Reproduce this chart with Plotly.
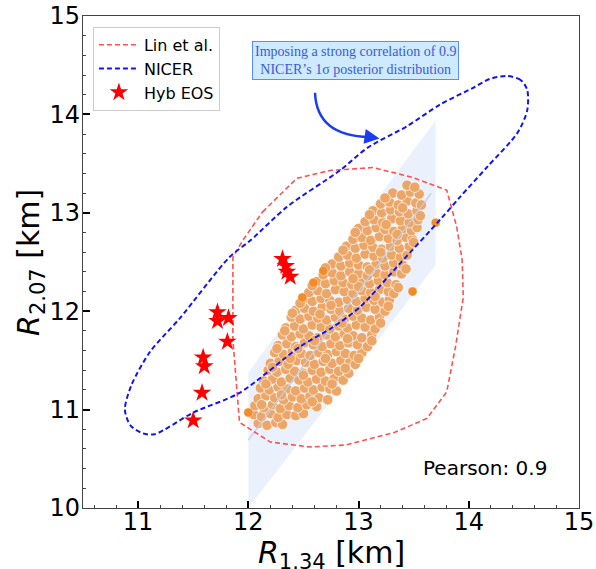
import plotly.graph_objects as go

# ---------------- data ----------------
# Lin et al. contour (R1.34, R2.07)
lin_x = [12.13, 12.44, 12.74, 13.13, 13.49, 13.80, 13.89, 13.94, 13.95, 13.88, 13.80, 13.62,
         13.33, 12.88, 12.56, 12.20, 11.92, 11.89, 11.86, 11.86, 11.95, 12.13]
lin_y = [13.01, 13.35, 13.43, 13.46, 13.36, 13.23, 12.86, 12.52, 12.14, 11.64, 11.18, 10.91,
         10.77, 10.64, 10.62, 10.67, 10.87, 11.30, 11.71, 12.55, 12.72, 13.01]

# NICER 1-sigma contour
nicer_x = [14.53, 14.47, 14.35, 14.19, 14.04, 13.74, 13.44, 13.08, 12.83, 12.35, 12.02, 11.83,
           11.38, 11.11, 10.94, 10.88, 10.93, 11.04, 11.15, 11.50, 11.92, 12.47, 12.77, 13.01,
           13.38, 13.74, 13.92, 14.17, 14.44, 14.53, 14.53]
nicer_y = [14.25, 14.35, 14.39, 14.36, 14.27, 14.10, 13.88, 13.66, 13.43, 13.06, 12.72, 12.55,
           11.93, 11.59, 11.25, 11.00, 10.84, 10.76, 10.75, 10.97, 11.17, 11.64, 11.84, 12.04,
           12.49, 12.93, 13.16, 13.47, 13.81, 14.04, 14.25]

# Hybrid EOS stars
hyb_x = [12.31, 12.34, 12.35, 12.38, 11.72, 11.72, 11.82, 11.81, 11.59, 11.60, 11.58, 11.50]
hyb_y = [12.53, 12.46, 12.40, 12.35, 11.99, 11.90, 11.93, 11.69, 11.53, 11.44, 11.17, 10.89]

# confidence band and fitted line
band_x = [12.0, 13.7, 13.7, 12.0, 12.0]
band_y = [10.0, 12.47, 13.94, 11.38, 10.0]
fit_x = [12.0, 13.66]
fit_y = [10.69, 13.20]

# sampled correlated points (R1.34, R2.07)
cloud_points = [
    (12.09, 10.86), (12.17, 10.84), (12.25, 10.87), (12.31, 10.85),
    (12.05, 10.95), (12.12, 10.93), (12.20, 10.96), (12.27, 10.92), (12.35, 10.95), (12.43, 10.94), (12.50, 10.96),
    (12.06, 11.04), (12.14, 11.02), (12.22, 11.05), (12.29, 11.01), (12.37, 11.04), (12.45, 11.02), (12.53, 11.05), (12.62, 11.03),
    (12.09, 11.11), (12.16, 11.14), (12.24, 11.12), (12.32, 11.10), (12.40, 11.13), (12.48, 11.11), (12.56, 11.14), (12.64, 11.12), (12.72, 11.10),
    (12.11, 11.22), (12.19, 11.20), (12.27, 11.23), (12.35, 11.21), (12.43, 11.19), (12.51, 11.22), (12.59, 11.20), (12.67, 11.23), (12.74, 11.21), (12.80, 11.19),
    (12.14, 11.29), (12.22, 11.31), (12.30, 11.28), (12.38, 11.32), (12.46, 11.30), (12.54, 11.28), (12.62, 11.31), (12.70, 11.29), (12.78, 11.32), (12.86, 11.30),
    (12.18, 11.40), (12.26, 11.38), (12.34, 11.41), (12.42, 11.39), (12.50, 11.37), (12.58, 11.40), (12.66, 11.38), (12.74, 11.41), (12.82, 11.39), (12.91, 11.37),
    (12.20, 11.47), (12.28, 11.49), (12.36, 11.46), (12.44, 11.50), (12.52, 11.48), (12.60, 11.46), (12.68, 11.49), (12.76, 11.47), (12.84, 11.50), (12.92, 11.48), (12.97, 11.46),
    (12.24, 11.58), (12.32, 11.56), (12.40, 11.59), (12.48, 11.57), (12.56, 11.55), (12.64, 11.58), (12.72, 11.56), (12.80, 11.59), (12.88, 11.57), (12.96, 11.55), (13.03, 11.58),
    (12.27, 11.65), (12.35, 11.67), (12.43, 11.64), (12.51, 11.68), (12.59, 11.66), (12.67, 11.64), (12.75, 11.67), (12.83, 11.65), (12.91, 11.68), (12.99, 11.66), (13.08, 11.64),
    (12.31, 11.76), (12.39, 11.74), (12.47, 11.77), (12.55, 11.75), (12.63, 11.73), (12.71, 11.76), (12.79, 11.74), (12.87, 11.77), (12.95, 11.75), (13.03, 11.73), (13.12, 11.76),
    (12.34, 11.83), (12.42, 11.85), (12.50, 11.82), (12.58, 11.86), (12.66, 11.84), (12.74, 11.82), (12.82, 11.85), (12.90, 11.83), (12.98, 11.86), (13.06, 11.84), (13.15, 11.82),
    (12.39, 11.94), (12.47, 11.92), (12.55, 11.95), (12.63, 11.93), (12.71, 11.91), (12.79, 11.94), (12.87, 11.92), (12.95, 11.95), (13.03, 11.93), (13.11, 11.91), (13.19, 11.94),
    (12.43, 12.01), (12.51, 12.03), (12.59, 12.00), (12.67, 12.04), (12.75, 12.02), (12.83, 12.00), (12.91, 12.03), (12.99, 12.01), (13.07, 12.04), (13.15, 12.02), (13.24, 12.00),
    (12.50, 12.12), (12.58, 12.10), (12.66, 12.13), (12.74, 12.11), (12.82, 12.09), (12.90, 12.12), (12.98, 12.10), (13.06, 12.13), (13.14, 12.11), (13.22, 12.09), (13.28, 12.12),
    (12.55, 12.19), (12.63, 12.21), (12.71, 12.18), (12.79, 12.22), (12.87, 12.20), (12.95, 12.18), (13.03, 12.21), (13.11, 12.19), (13.19, 12.22), (13.27, 12.20), (13.32, 12.18),
    (12.62, 12.30), (12.70, 12.28), (12.78, 12.31), (12.86, 12.29), (12.94, 12.27), (13.02, 12.30), (13.10, 12.28), (13.18, 12.31), (13.26, 12.29), (13.34, 12.27),
    (12.68, 12.37), (12.76, 12.39), (12.84, 12.36), (12.92, 12.40), (13.00, 12.38), (13.08, 12.36), (13.16, 12.39), (13.24, 12.37), (13.32, 12.40), (13.39, 12.38),
    (12.76, 12.48), (12.84, 12.46), (12.92, 12.49), (13.00, 12.47), (13.08, 12.45), (13.16, 12.48), (13.24, 12.46), (13.32, 12.49), (13.40, 12.47),
    (12.82, 12.55), (12.90, 12.57), (12.98, 12.54), (13.06, 12.58), (13.14, 12.56), (13.22, 12.54), (13.30, 12.57), (13.38, 12.55), (13.44, 12.57),
    (12.89, 12.66), (12.97, 12.64), (13.05, 12.67), (13.13, 12.65), (13.21, 12.63), (13.29, 12.66), (13.37, 12.64), (13.46, 12.66),
    (12.95, 12.73), (13.03, 12.75), (13.11, 12.72), (13.19, 12.76), (13.27, 12.74), (13.35, 12.72), (13.43, 12.75), (13.49, 12.73),
    (13.00, 12.84), (13.08, 12.82), (13.16, 12.85), (13.24, 12.83), (13.32, 12.81), (13.40, 12.84), (13.48, 12.82), (13.53, 12.85),
    (13.06, 12.91), (13.14, 12.93), (13.22, 12.90), (13.30, 12.94), (13.38, 12.92), (13.46, 12.90), (13.54, 12.93),
    (13.13, 13.02), (13.21, 13.00), (13.29, 13.03), (13.37, 13.01), (13.45, 12.99), (13.53, 13.02),
    (13.20, 13.09), (13.28, 13.11), (13.36, 13.08), (13.44, 13.12), (13.52, 13.10), (13.57, 13.08),
    (13.31, 13.20), (13.39, 13.18), (13.47, 13.21), (13.55, 13.19),
    (13.44, 13.28), (13.51, 13.26),
    # irregular extra samples
    (12.12, 11.05), (12.16, 11.26), (12.22, 11.43), (12.26, 11.62), (12.33, 11.80), (12.40, 11.98),
    (12.47, 12.08), (12.58, 12.26), (12.70, 12.44), (12.86, 12.62), (12.97, 12.80), (13.10, 12.98),
    (13.24, 13.15), (12.58, 11.08), (12.76, 11.26), (12.88, 11.42), (13.00, 11.52), (13.12, 11.70),
    (13.20, 11.88), (13.27, 12.05), (13.36, 12.24), (13.43, 12.43), (13.50, 12.70), (13.56, 12.97),
    (12.30, 11.15), (12.50, 11.35), (12.70, 11.52), (12.60, 11.70), (12.85, 11.88), (12.75, 12.06),
    (13.00, 12.25), (13.10, 12.42), (13.20, 12.60), (13.35, 12.78), (13.40, 13.05), (12.45, 11.62),
    (12.65, 11.97), (12.95, 12.33), (13.25, 12.88), (13.15, 12.15), (12.38, 11.52), (12.90, 11.72),
]
cloud_x = [p[0] for p in cloud_points]
cloud_y = [p[1] for p in cloud_points]

# isolated samples
edge_x = [12.00, 12.49, 12.59, 12.68, 13.70, 13.49]
edge_y = [10.97, 12.14, 12.29, 12.41, 12.90, 12.20]

x_ticks = [11, 12, 13, 14, 15]
y_ticks = [10, 11, 12, 13, 14, 15]

# ---------------- figure ----------------
fig = go.Figure()

fig.add_trace(go.Scatter(x=band_x, y=band_y, mode="lines", fill="toself",
                         fillcolor="rgba(120,160,235,0.15)", line=dict(width=0),
                         showlegend=False, hoverinfo="skip"))

fig.add_trace(go.Scatter(x=cloud_x, y=cloud_y, mode="markers", showlegend=False,
                         marker=dict(size=10.5, color="rgb(235,166,104)",
                                     line=dict(color="rgba(255,255,255,0.85)", width=0.8))))

fig.add_trace(go.Scatter(x=edge_x, y=edge_y, mode="markers", showlegend=False,
                         marker=dict(size=9, color="rgb(242,140,40)",
                                     line=dict(color="rgba(255,255,255,0.6)", width=0.5))))

fig.add_trace(go.Scatter(x=fit_x, y=fit_y, mode="lines", showlegend=False,
                         line=dict(color="rgba(190,205,235,0.9)", width=1.5)))

fig.add_trace(go.Scatter(x=lin_x, y=lin_y, mode="lines", name="Lin et al.",
                         line=dict(color="rgba(255,50,50,0.85)", width=1.6, dash="5px,3px")))

fig.add_trace(go.Scatter(x=nicer_x, y=nicer_y, mode="lines", name="NICER",
                         line=dict(color="rgb(20,20,240)", width=2, dash="5px,3px", shape="spline",
                                   smoothing=0.8)))

fig.add_trace(go.Scatter(x=hyb_x, y=hyb_y, mode="markers", name="Hyb EOS",
                         marker=dict(symbol="star", size=14, color="red",
                                     line=dict(width=0))))

axis_common = dict(
    showline=True, linecolor="#444", linewidth=1.3, mirror=True,
    ticks="inside", ticklen=7, tickwidth=2, tickcolor="black",
    showgrid=False, zeroline=False, automargin=False,
    tickfont=dict(family="DejaVu Sans", size=24, color="black"),
    minor=dict(ticks="inside", ticklen=3, tickwidth=1, tickcolor="#444", dtick=0.2,
               showgrid=False),
)

fig.update_xaxes(range=[10.5, 15], tickvals=x_ticks, ticklabelstandoff=-8, **axis_common)
fig.update_yaxes(range=[10, 15], tickvals=y_ticks, ticklabelstandoff=-3, **axis_common)

# axis titles
fig.add_annotation(xref="paper", yref="paper", x=0.5, y=-0.05, xanchor="center",
                   yanchor="top", showarrow=False,
                   text="<i>R</i><sub>1.34</sub> [km]",
                   font=dict(family="DejaVu Sans", size=30, color="black"))
fig.add_annotation(xref="paper", yref="paper", x=-0.107, y=0.5, xanchor="center",
                   yanchor="middle", showarrow=False, textangle=-90,
                   text="<i>R</i><sub>2.07</sub> [km]",
                   font=dict(family="DejaVu Sans", size=30, color="black"))

fig.add_annotation(xref="paper", yref="paper", x=0.94, y=0.081, xanchor="right",
                   yanchor="middle", showarrow=False, text="Pearson: 0.9",
                   font=dict(family="DejaVu Sans", size=20, color="black"))

fig.add_annotation(xref="paper", yref="paper", x=0.55, y=0.909, xanchor="center",
                   yanchor="middle", showarrow=False,
                   text="Imposing a strong correlation of 0.9<br>NICER\u2019s 1\u03c3 posterior distribution",
                   font=dict(family="Liberation Serif", size=14, color="rgb(60,90,215)"),
                   bgcolor="rgb(205,234,255)", bordercolor="rgb(90,140,255)", borderwidth=1,
                   borderpad=2)

# curved arrow
fig.add_shape(type="path", xref="x", yref="y",
              path="M 12.605,14.22 Q 12.62,13.78 13.10,13.77",
              line=dict(color="rgb(25,60,245)", width=2.5))
fig.add_annotation(xref="x", yref="y", x=13.19, y=13.755, ax=13.07, ay=13.775,
                   axref="x", ayref="y", showarrow=True, arrowhead=2, arrowsize=1.2,
                   arrowwidth=2.5, arrowcolor="rgb(25,60,245)", text="")

fig.update_layout(
    width=596, height=569,
    margin=dict(l=83, r=17, t=16, b=61),
    plot_bgcolor="white", paper_bgcolor="white",
    font=dict(family="DejaVu Sans", color="black"),
    legend=dict(x=0.02, y=0.978, xanchor="left", yanchor="top",
                bgcolor="rgba(255,255,255,0.9)", bordercolor="#cccccc", borderwidth=1,
                font=dict(family="DejaVu Sans", size=16, color="black"),
                itemwidth=40, tracegroupgap=0),
)

fig.write_html("out.html")
